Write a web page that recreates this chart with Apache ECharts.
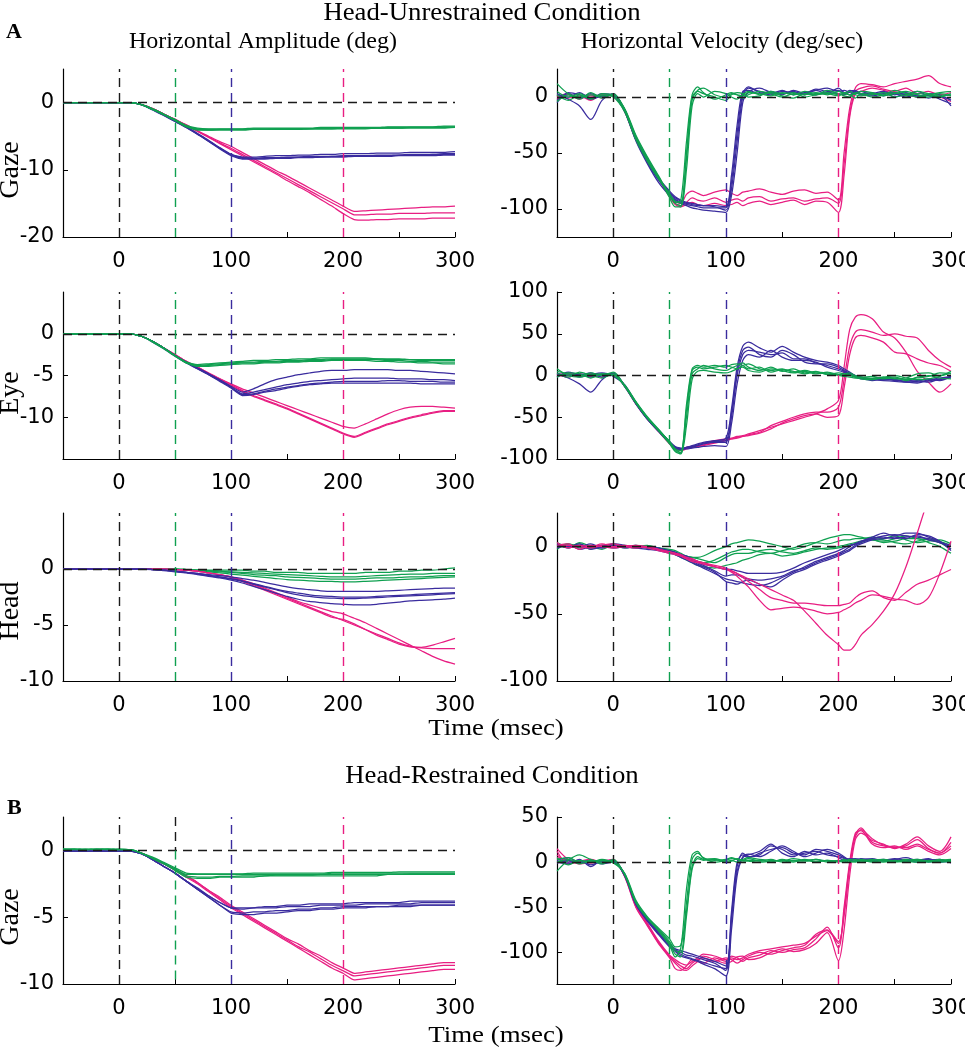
<!DOCTYPE html>
<html><head><meta charset="utf-8">
<script src="https://cdn.jsdelivr.net/npm/echarts@6.0.0/dist/echarts.min.js"></script>
<style>html,body{margin:0;padding:0;background:#fff}#c{width:965px;height:1050px}</style>
</head><body><div id="c"></div><script>
// ---------- time bases ----------
const tAmp = [-50,-40,-30,-20,-10,0,10,20,30,40,50,60,70,80,90,100,110,120,130,140,150,160,170,180,190,200,210,220,230,240,250,260,270,280,290,300];
const tVel = [-50,-40,-30,-20,-10,0, 10,20,30,40,50, 55,60,65,70,75,80, 90,100, 105,110,115,120, 130,140,150,160,170,180,190,200, 205,210,215,220, 230,240,250,260,270,280,290,300];
const xTickLabels = [0,100,200,300];

// ---------- A: Gaze amplitude ----------
const gazeAmpGreen = [
[0,0,0,0,0,0,0, -0.3,-1.0,-1.8,-2.6,-3.5,-3.9,-4.0,-4.0,-4.0, -4.0,-3.9,-3.9,-3.9,-3.9,-3.9,-3.9,-3.8,-3.8,-3.8, -3.8,-3.8,-3.8,-3.7,-3.7,-3.7,-3.7,-3.7,-3.6,-3.6],
[0,0,0,0,0,0,0, -0.3,-1.0,-1.8,-2.6,-3.6,-4.1,-4.1,-4.1,-4.1, -4.1,-4.0,-4.0,-4.0,-4.0,-4.0,-3.9,-3.9,-3.9,-3.9, -3.9,-3.9,-3.8,-3.8,-3.8,-3.8,-3.8,-3.8,-3.8,-3.7],
[0,0,0,0,0,0,0, -0.3,-0.9,-1.7,-2.5,-3.4,-3.8,-3.9,-3.9,-3.9, -3.9,-3.8,-3.8,-3.8,-3.8,-3.8,-3.8,-3.7,-3.7,-3.7, -3.7,-3.7,-3.7,-3.6,-3.6,-3.6,-3.6,-3.6,-3.5,-3.5],
[0,0,0,0,0,0,0, -0.3,-1.0,-1.8,-2.7,-3.6,-4.0,-4.1,-4.0,-4.0, -4.0,-4.0,-4.0,-3.9,-3.9,-3.9,-3.9,-3.9,-3.9,-3.8, -3.8,-3.8,-3.8,-3.8,-3.8,-3.7,-3.7,-3.7,-3.7,-3.7]
];
const gazeAmpBlue = [
[0,0,0,0,0,0,0, -0.3,-1.0,-1.8,-2.7,-3.6,-4.6,-5.6,-6.7,-7.7, -8.2,-8.3,-8.2,-8.2,-8.1,-8.1,-8.0,-8.0,-8.0,-7.9, -7.9,-7.9,-7.8,-7.8,-7.8,-7.7,-7.7,-7.7,-7.6,-7.6],
[0,0,0,0,0,0,0, -0.3,-1.1,-1.9,-2.8,-3.7,-4.7,-5.8,-6.9,-7.9, -8.4,-8.4,-8.4,-8.3,-8.3,-8.2,-8.2,-8.1,-8.1,-8.1, -8.0,-8.0,-8.0,-8.0,-7.9,-7.9,-7.9,-7.9,-7.8,-7.8],
[0,0,0,0,0,0,0, -0.3,-1.0,-1.8,-2.7,-3.6,-4.6,-5.7,-6.8,-7.7, -8.1,-8.1,-8.0,-7.9,-7.9,-7.8,-7.8,-7.7,-7.7,-7.6, -7.6,-7.6,-7.5,-7.5,-7.5,-7.4,-7.4,-7.4,-7.4,-7.3],
[0,0,0,0,0,0,0, -0.3,-1.0,-1.9,-2.8,-3.7,-4.7,-5.7,-6.8,-7.8, -8.3,-8.3,-8.3,-8.2,-8.2,-8.1,-8.1,-8.1,-8.0,-8.0, -8.0,-7.9,-7.9,-7.9,-7.8,-7.8,-7.8,-7.7,-7.7,-7.7]
];
const gazeAmpMagenta = [
[0,0,0,0,0,0,0, -0.3,-0.9,-1.7,-2.5,-3.3,-4.2,-5.0,-5.8,-6.5, -7.4,-8.3,-9.2,-10.1,-10.9,-11.8,-12.7,-13.6,-14.5,-15.4, -16.2,-16.1,-16.0,-15.9,-15.8,-15.7,-15.6,-15.5,-15.5,-15.4],
[0,0,0,0,0,0,0, -0.3,-0.9,-1.7,-2.5,-3.3,-4.2,-5.1,-6.0,-6.8, -7.7,-8.6,-9.5,-10.4,-11.3,-12.2,-13.1,-14.0,-14.9,-15.8, -16.7,-16.7,-16.6,-16.6,-16.5,-16.5,-16.5,-16.4,-16.4,-16.4],
[0,0,0,0,0,0,0, -0.3,-0.9,-1.7,-2.5,-3.4,-4.3,-5.2,-6.1,-7.0, -7.9,-8.8,-9.7,-10.6,-11.6,-12.5,-13.4,-14.4,-15.4,-16.5, -17.4,-17.5,-17.4,-17.4,-17.3,-17.3,-17.3,-17.2,-17.2,-17.2]
];

// ---------- A: Gaze velocity ----------
const gazeVelGreen = [
[12,3,0,2,1,2, -10,-34,-53,-70,-88, -95,-97,-55,-3,6,8, 2,0, 3,2,1,4, 3,1,4,2,5,3,4,2, 3,5,2,1, 3,2,4,1,3,2,0,3],
[2,-3,2,-2,3,1, -12,-36,-55,-72,-86, -94,-92,-40,2,9,4, -2,2, 4,2,-1,2, 5,3,0,3,2,4,2,5, 3,2,-1,3, 2,4,0,2,5,3,1,2],
[-4,2,-2,4,-1,3, -11,-35,-54,-71,-90, -98,-98,-65,-8,3,0, 5,3, 0,-2,2,5, 2,4,1,-1,3,2,6,3, 1,0,4,3, 0,2,6,3,0,2,4,5],
[5,0,3,-1,2,0, -13,-38,-57,-73,-87, -93,-95,-50,0,5,3, 0,-3, 2,4,3,0, 1,5,3,4,0,2,3,1, 4,2,3,5, 4,1,3,5,2,0,3,1]
];
const gazeVelBlue = [
[3,-2,-8,-20,-3,3, -12,-38,-58,-74,-86, -90,-93,-95,-96,-97,-97, -98,-101, -82,-40,0,8, 5,3,6,2,4,6,8,5, 6,4,3,5, 2,4,0,3,1,2,-2,-6],
[-5,4,2,-2,1,2, -11,-36,-56,-72,-84, -89,-92,-94,-95,-96,-97, -97,-98, -70,-25,5,6, 3,5,2,6,3,2,4,3, 2,5,6,3, 4,1,3,0,2,-1,1,-3],
[2,0,4,-1,3,1, -13,-39,-59,-76,-88, -92,-95,-97,-99,-100,-101, -102,-103, -88,-50,-5,4, 8,4,3,5,2,6,3,8, 4,2,5,2, 3,5,2,4,0,3,2,-8],
[-3,3,-1,3,0,2, -12,-37,-57,-73,-85, -91,-94,-96,-97,-98,-99, -99,-99, -76,-32,3,9, 4,2,5,4,3,7,5,6, 3,6,4,2, 1,3,4,2,5,1,0,-2]
];
const gazeVelMagenta = [
[0,3,-2,2,0,2, -12,-37,-56,-72,-87, -93,-95,-87,-84,-86,-88, -85,-83, -86,-88,-85,-84, -82,-85,-87,-84,-83,-86,-85,-92, -50,-10,8,12, 11,9,12,14,16,19,12,9],
[2,-1,1,-3,2,1, -11,-36,-55,-71,-88, -95,-97,-94,-90,-92,-93, -90,-94, -92,-91,-93,-90, -89,-93,-91,-90,-93,-91,-90,-95, -60,-15,5,8, 10,7,5,8,3,5,2,4],
[-2,2,0,1,-1,3, -13,-38,-57,-73,-89, -96,-98,-96,-94,-96,-97, -95,-97, -96,-94,-97,-95, -93,-96,-94,-92,-96,-93,-94,-103, -70,-18,3,5, 8,6,3,2,0,2,0,-4]
];

// ---------- A: Eye amplitude ----------
const eyeAmpGreen = [
[0,0,0,0,0,0,0, -0.3,-0.9,-1.7,-2.6,-3.4,-3.8,-3.7,-3.6,-3.5, -3.4,-3.4,-3.3,-3.3,-3.2,-3.2,-3.1,-3.1,-3.0,-3.0, -3.0,-3.0,-3.0,-3.1,-3.1,-3.1,-3.2,-3.2,-3.2,-3.2],
[0,0,0,0,0,0,0, -0.3,-0.9,-1.7,-2.6,-3.5,-3.9,-3.8,-3.7,-3.6, -3.5,-3.5,-3.4,-3.4,-3.3,-3.3,-3.2,-3.2,-3.1,-3.1, -3.1,-3.1,-3.1,-3.2,-3.2,-3.3,-3.3,-3.4,-3.4,-3.4],
[0,0,0,0,0,0,0, -0.3,-0.9,-1.7,-2.6,-3.4,-3.7,-3.6,-3.5,-3.4, -3.3,-3.2,-3.2,-3.1,-3.1,-3.0,-3.0,-2.9,-2.9,-2.9, -2.9,-2.9,-3.0,-3.0,-3.0,-3.1,-3.1,-3.1,-3.1,-3.1],
[0,0,0,0,0,0,0, -0.3,-1.0,-1.8,-2.7,-3.5,-3.9,-3.9,-3.8,-3.7, -3.6,-3.6,-3.5,-3.5,-3.4,-3.4,-3.3,-3.3,-3.2,-3.2, -3.2,-3.2,-3.3,-3.3,-3.4,-3.4,-3.5,-3.5,-3.6,-3.6]
];
const eyeAmpBlue = [
[0,0,0,0,0,0,0, -0.3,-0.9,-1.7,-2.6,-3.4,-4.1,-4.8,-5.5,-6.3, -7.0,-6.6,-6.0,-5.5,-5.2,-4.9,-4.7,-4.5,-4.4,-4.4, -4.3,-4.3,-4.3,-4.3,-4.4,-4.4,-4.5,-4.6,-4.7,-4.8],
[0,0,0,0,0,0,0, -0.3,-0.9,-1.7,-2.6,-3.4,-4.1,-4.8,-5.6,-6.4, -7.2,-7.0,-6.7,-6.4,-6.1,-5.9,-5.7,-5.6,-5.5,-5.4, -5.3,-5.3,-5.3,-5.3,-5.4,-5.4,-5.4,-5.5,-5.5,-5.6],
[0,0,0,0,0,0,0, -0.3,-0.9,-1.7,-2.6,-3.4,-4.2,-4.9,-5.6,-6.4, -7.3,-7.2,-6.9,-6.6,-6.4,-6.2,-6.0,-5.9,-5.8,-5.7, -5.7,-5.7,-5.7,-5.6,-5.6,-5.7,-5.7,-5.7,-5.8,-5.8],
[0,0,0,0,0,0,0, -0.3,-1.0,-1.8,-2.7,-3.5,-4.2,-4.9,-5.7,-6.5, -7.4,-7.3,-7.0,-6.8,-6.5,-6.3,-6.1,-6.0,-5.9,-5.9, -5.9,-5.9,-5.9,-5.9,-5.9,-5.9,-6.0,-6.0,-6.0,-6.0]
];
const eyeAmpMagenta = [
[0,0,0,0,0,0,0, -0.3,-0.9,-1.7,-2.5,-3.3,-4.0,-4.7,-5.4,-6.0, -6.6,-7.1,-7.6,-8.1,-8.6,-9.1,-9.6,-10.1,-10.6,-11.1, -11.3,-10.8,-10.2,-9.6,-9.1,-8.8,-8.7,-8.7,-8.8,-8.9],
[0,0,0,0,0,0,0, -0.3,-0.9,-1.7,-2.5,-3.3,-4.0,-4.7,-5.4,-6.1, -6.8,-7.4,-7.9,-8.4,-8.9,-9.5,-10.1,-10.7,-11.3,-11.9, -12.3,-11.8,-11.3,-10.8,-10.4,-10.0,-9.7,-9.4,-9.2,-9.2],
[0,0,0,0,0,0,0, -0.3,-0.9,-1.7,-2.5,-3.3,-4.0,-4.8,-5.5,-6.2, -6.9,-7.5,-8.0,-8.5,-9.0,-9.6,-10.2,-10.8,-11.4,-12.0, -12.4,-11.9,-11.4,-10.9,-10.5,-10.1,-9.8,-9.5,-9.3,-9.3]
];

// ---------- A: Eye velocity ----------
const eyeVelGreen = [
[5,2,-1,3,0,4, -12,-32,-50,-65,-80, -88,-90,-41,6,10,8, 10,12, 10,8,12,14, 8,6,8,4,6,3,2,0, -1,-2,-3,-3, -3,-2,-4,-3,2,3,0,5],
[-2,3,2,-3,2,1, -11,-31,-49,-64,-80, -90,-92,-50,2,8,12, 8,6, 9,12,15,10, 6,10,5,8,3,5,1,3, 2,0,-2,-4, -5,-3,-2,-5,-3,-1,3,2],
[3,-2,4,0,-3,2, -13,-33,-51,-66,-82, -91,-94,-60,-5,5,6, 4,3, 5,8,10,6, 4,8,6,3,5,2,4,1, 0,1,-1,-2, -1,-4,-3,-6,-2,0,-3,-4],
[8,0,-2,1,2,0, -12,-32,-50,-65,-79, -88,-93,-35,8,12,10, 12,10, 13,14,12,8, 10,4,7,5,2,4,3,1, 2,3,0,-2, -4,-2,0,-3,-5,-4,-1,3]
];
const eyeVelBlue = [
[2,-3,-10,-20,-5,3, -12,-33,-51,-66,-80, -86,-88,-86,-84,-82,-80, -78,-75, -40,10,35,40, 33,28,35,28,22,18,16,12, 8,4,0,-2, -4,-5,-5,-8,-7,-4,-6,-1],
[-2,4,1,3,-2,2, -13,-34,-52,-67,-81, -87,-89,-87,-86,-84,-82, -80,-80, -50,0,25,30, 28,25,27,20,20,15,12,8, 5,2,-2,-4, -5,-6,-7,-8,-9,-6,-5,-3],
[0,2,-2,1,3,-1, -11,-32,-51,-65,-79, -85,-87,-88,-87,-86,-85, -84,-85, -58,-10,18,25, 22,30,22,18,18,16,10,6, 4,1,-1,-3, -4,-3,-6,-5,-8,-5,-3,-1],
[3,0,2,-2,1,2, -12,-33,-52,-66,-80, -86,-88,-86,-85,-83,-81, -79,-78, -45,5,30,34, 25,22,30,25,16,14,14,10, 6,3,0,-3, -6,-4,-5,-7,-6,-8,-4,-2]
];
const eyeVelMagenta = [
[0,3,-1,2,1,2, -12,-33,-51,-66,-81, -87,-88,-86,-85,-84,-82, -78,-76, -75,-73,-72,-70, -66,-62,-58,-54,-50,-46,-40,-30, 10,55,70,73, 68,52,45,28,5,-8,-20,-10],
[2,-2,2,-1,0,1, -13,-34,-52,-67,-82, -88,-89,-87,-86,-85,-83, -80,-77, -76,-74,-73,-71, -68,-60,-55,-50,-46,-44,-44,-38, -5,35,52,55, 52,48,50,47,45,30,18,10],
[-1,1,0,2,-2,2, -12,-33,-51,-66,-81, -87,-90,-88,-86,-85,-84, -81,-78, -76,-75,-73,-72, -69,-64,-57,-52,-48,-46,-50,-48, -15,25,45,48, 45,40,28,26,20,15,12,5]
];

// ---------- A: Head amplitude ----------
const headAmpGreen = [
[0,0,0,0,0,0,0, 0,0,0,0,-0.05,-0.1,-0.1,-0.1,-0.1, -0.1,-0.2,-0.2,-0.3,-0.3,-0.3,-0.4,-0.4,-0.4,-0.4, -0.4,-0.3,-0.3,-0.3,-0.2,-0.2,-0.1,-0.1,0,0.1],
[0,0,0,0,0,0,0, 0,0,0,0,-0.05,-0.1,-0.15,-0.2,-0.25, -0.3,-0.35,-0.4,-0.45,-0.5,-0.55,-0.6,-0.65,-0.7,-0.7, -0.7,-0.65,-0.6,-0.55,-0.5,-0.45,-0.45,-0.4,-0.4,-0.4],
[0,0,0,0,0,0,0, 0,0,0,0,-0.05,-0.1,-0.2,-0.25,-0.3, -0.4,-0.5,-0.55,-0.6,-0.7,-0.75,-0.8,-0.85,-0.9,-0.9, -0.9,-0.85,-0.8,-0.8,-0.75,-0.7,-0.7,-0.65,-0.6,-0.6],
[0,0,0,0,0,0,0, 0,0,0,-0.02,-0.1,-0.15,-0.25,-0.35,-0.45, -0.55,-0.65,-0.75,-0.85,-0.95,-1.0,-1.05,-1.1,-1.1,-1.15, -1.15,-1.1,-1.05,-1.0,-0.95,-0.9,-0.85,-0.8,-0.75,-0.7]
];
const headAmpBlue = [
[0,0,0,0,0,0,0, 0,-0.05,-0.1,-0.2,-0.3,-0.4,-0.5,-0.6,-0.7, -0.85,-1.0,-1.2,-1.4,-1.6,-1.75,-1.85,-1.95,-2.0,-2.0, -2.0,-2.0,-2.0,-1.95,-1.9,-1.85,-1.8,-1.75,-1.7,-1.7],
[0,0,0,0,0,0,0, 0,-0.05,-0.1,-0.2,-0.3,-0.4,-0.55,-0.7,-0.85, -1.05,-1.3,-1.55,-1.8,-2.0,-2.15,-2.3,-2.4,-2.45,-2.5, -2.5,-2.5,-2.45,-2.4,-2.35,-2.3,-2.25,-2.2,-2.15,-2.1],
[0,0,0,0,0,0,0, 0,-0.05,-0.1,-0.2,-0.3,-0.45,-0.6,-0.75,-0.9, -1.1,-1.35,-1.6,-1.85,-2.1,-2.3,-2.45,-2.55,-2.6,-2.65, -2.65,-2.6,-2.55,-2.5,-2.45,-2.4,-2.35,-2.3,-2.25,-2.2],
[0,0,0,0,0,0,0, 0,-0.05,-0.15,-0.25,-0.35,-0.5,-0.65,-0.8,-1.0, -1.25,-1.55,-1.85,-2.15,-2.45,-2.7,-2.9,-3.0,-3.1,-3.15, -3.2,-3.2,-3.15,-3.05,-2.95,-2.85,-2.8,-2.75,-2.7,-2.6]
];
const headAmpMagenta = [
[0,0,0,0,0,0,0, 0,0,0,-0.05,-0.1,-0.2,-0.35,-0.5,-0.7, -1.0,-1.3,-1.7,-2.1,-2.5,-2.9,-3.2,-3.5,-3.8,-4.0, -4.4,-4.8,-5.3,-5.8,-6.3,-6.8,-7.3,-7.8,-8.2,-8.5],
[0,0,0,0,0,0,0, 0,0,0,-0.05,-0.1,-0.2,-0.35,-0.5,-0.7, -1.0,-1.4,-1.8,-2.2,-2.6,-3.0,-3.4,-3.8,-4.2,-4.6, -5.0,-5.4,-5.8,-6.2,-6.6,-6.9,-7.0,-6.8,-6.5,-6.2],
[0,0,0,0,0,0,0, 0,0,0,-0.05,-0.1,-0.2,-0.35,-0.5,-0.75, -1.1,-1.5,-1.9,-2.3,-2.7,-3.1,-3.5,-3.9,-4.3,-4.5, -4.9,-5.4,-5.9,-6.3,-6.7,-6.95,-7.05,-7.1,-7.1,-7.1]
];

// ---------- A: Head velocity ----------
const headVelGreen = [
[3,0,2,-2,1,-1, 1,0,-1,-2,-3, -4,-6,-7,-8,-8,-7, -3,0, 2,3,4,5, 4,2,0,-2,0,3,6,8, 9,9,8,7, 5,4,6,8,6,5,3,-2],
[-2,2,-1,1,0,2, 0,1,0,-1,-3, -5,-7,-9,-10,-11,-12, -10,-6, -4,-3,-2,-2, -4,-5,-3,-1,2,3,2,4, 5,5,6,6, 7,6,8,5,3,4,5,2],
[1,-1,3,0,-2,1, -1,0,1,-1,-4, -6,-8,-10,-12,-14,-15, -16,-14, -13,-12,-10,-9, -6,-5,-7,-6,-4,-2,-1,0, 1,2,3,4, 5,3,4,6,6,3,0,-5],
[0,2,0,-1,1,0, 0,-1,0,-1,-2, -3,-5,-7,-8,-9,-10, -12,-8, -6,-5,-5,-5, -3,-2,-4,-5,-3,-1,-2,-1, 0,1,2,3, 6,5,3,2,4,6,4,1]
];
const headVelBlue = [
[-1,1,0,2,-1,1, 0,-1,0,-1,-3, -4,-6,-7,-9,-11,-13, -15,-17, -17,-18,-19,-20, -20,-20,-19,-16,-12,-9,-6,-3, -1,1,2,4, 6,8,9,8,7,6,3,0],
[2,-1,1,-2,0,2, 1,-1,-2,-3,-5, -6,-8,-10,-12,-14,-16, -20,-24, -25,-26,-27,-28, -29,-27,-23,-19,-15,-11,-8,-5, -3,0,2,4, 7,10,8,10,10,7,4,-3],
[0,1,-2,0,1,-1, 0,1,-1,-2,-4, -5,-7,-8,-10,-12,-14, -18,-22, -21,-21,-23,-24, -25,-24,-22,-18,-16,-12,-9,-6, -4,-2,1,3, 6,7,6,7,8,5,3,1],
[1,0,2,-1,-1,1, -1,0,-1,-2,-4, -5,-6,-8,-11,-13,-15, -19,-26, -27,-28,-26,-25, -28,-30,-25,-20,-17,-13,-10,-7, -5,-3,0,2, 5,6,7,6,9,8,4,-2]
];
const headVelMagenta = [
[3,-1,1,0,2,0, 1,0,-1,-3,-5, -6,-7,-9,-10,-11,-12, -15,-17, -18,-20,-22,-24, -28,-32,-36,-40,-48,-57,-66,-73, -77,-77,-73,-66, -58,-48,-35,-15,10,35,50,60],
[1,2,-2,1,0,-1, 0,1,0,-2,-4, -5,-7,-9,-11,-12,-13, -15,-17, -19,-22,-26,-30, -40,-47,-46,-45,-46,-48,-50,-49, -47,-45,-42,-40, -36,-37,-39,-40,-43,-38,-20,4],
[0,1,0,-1,1,2, 0,-1,0,-2,-4, -5,-6,-8,-9,-11,-12, -14,-16, -18,-20,-23,-26, -32,-38,-40,-42,-42,-43,-44,-44, -43,-42,-38,-35, -33,-38,-40,-34,-28,-25,-21,-17]
];

// ---------- B: Gaze amplitude (head restrained) ----------
const gazeRAmpGreen = [
[0.1,0.1,0.1,0.1,0.1,0.1,0.05, -0.2,-0.6,-1.0,-1.4,-1.8,-1.8,-1.8,-1.8,-1.8, -1.8,-1.8,-1.8,-1.8,-1.8,-1.8,-1.8,-1.8,-1.7,-1.7, -1.7,-1.7,-1.7,-1.7,-1.7,-1.7,-1.7,-1.7,-1.7,-1.7],
[0.1,0.05,0.1,0.05,0.1,0.05,0.05, -0.2,-0.6,-1.0,-1.5,-2.0,-2.1,-2.1,-2.0,-2.0, -2.0,-2.0,-1.9,-1.9,-1.9,-1.9,-1.9,-1.9,-1.9,-1.9, -1.9,-1.9,-1.9,-1.8,-1.8,-1.8,-1.8,-1.8,-1.8,-1.8],
[0.05,0.1,0.05,0.1,0.05,0.1,0.05, -0.2,-0.5,-0.9,-1.3,-1.7,-1.75,-1.75,-1.75,-1.75, -1.75,-1.7,-1.7,-1.7,-1.7,-1.7,-1.7,-1.7,-1.65,-1.65, -1.65,-1.65,-1.65,-1.65,-1.6,-1.6,-1.6,-1.6,-1.6,-1.6],
[0.1,0.1,0.05,0.1,0.1,0.05,0.05, -0.2,-0.6,-1.0,-1.4,-1.9,-2.0,-2.0,-1.95,-1.95, -1.9,-1.9,-1.9,-1.85,-1.85,-1.85,-1.85,-1.8,-1.8,-1.8, -1.8,-1.8,-1.8,-1.8,-1.8,-1.75,-1.75,-1.75,-1.75,-1.75]
];
const gazeRAmpBlue = [
[-0.05,-0.05,-0.05,-0.05,-0.05,-0.05,-0.05, -0.25,-0.7,-1.2,-1.7,-2.3,-2.9,-3.5,-4.1,-4.6, -4.7,-4.6,-4.6,-4.5,-4.5,-4.4,-4.4,-4.3,-4.3,-4.2, -4.2,-4.2,-4.2,-4.2,-4.1,-4.1,-4.1,-4.1,-4.1,-4.1],
[-0.05,-0.05,-0.05,-0.05,-0.05,-0.05,-0.05, -0.25,-0.7,-1.2,-1.7,-2.3,-2.9,-3.4,-3.9,-4.3, -4.4,-4.3,-4.3,-4.3,-4.2,-4.2,-4.2,-4.1,-4.1,-4.1, -4.1,-4.0,-4.0,-4.0,-4.0,-4.0,-3.9,-3.9,-3.9,-3.9],
[-0.05,-0.05,-0.05,-0.05,-0.05,-0.05,-0.05, -0.25,-0.7,-1.2,-1.7,-2.3,-2.9,-3.5,-4.1,-4.7, -4.8,-4.8,-4.7,-4.7,-4.6,-4.5,-4.5,-4.4,-4.4,-4.3, -4.3,-4.3,-4.2,-4.2,-4.2,-4.2,-4.1,-4.1,-4.1,-4.1],
[-0.05,-0.05,-0.05,-0.05,-0.05,-0.05,-0.05, -0.25,-0.7,-1.2,-1.7,-2.3,-2.8,-3.4,-3.9,-4.3, -4.3,-4.3,-4.2,-4.2,-4.1,-4.1,-4.0,-4.0,-4.0,-4.0, -3.9,-3.9,-3.9,-3.9,-3.9,-3.8,-3.8,-3.8,-3.8,-3.8]
];
const gazeRAmpMagenta = [
[0,0,0,0,0,0,0, -0.2,-0.6,-1.0,-1.4,-1.9,-2.4,-3.0,-3.5,-4.1, -4.6,-5.1,-5.6,-6.1,-6.6,-7.0,-7.5,-7.9,-8.4,-8.8, -9.2,-9.1,-9.0,-8.9,-8.8,-8.7,-8.6,-8.5,-8.4,-8.4],
[0,0,0,0,0,0,0, -0.2,-0.6,-1.0,-1.4,-1.9,-2.4,-3.0,-3.6,-4.2, -4.7,-5.2,-5.7,-6.2,-6.7,-7.2,-7.6,-8.1,-8.6,-9.0, -9.4,-9.3,-9.2,-9.1,-9.0,-8.9,-8.8,-8.7,-8.6,-8.6],
[0,0,0,0,0,0,0, -0.2,-0.6,-1.0,-1.5,-2.0,-2.5,-3.1,-3.7,-4.3, -4.8,-5.3,-5.8,-6.3,-6.8,-7.3,-7.8,-8.3,-8.8,-9.2, -9.7,-9.6,-9.5,-9.4,-9.3,-9.2,-9.1,-9.0,-8.9,-8.9]
];

// ---------- B: Gaze velocity (head restrained) ----------
const gazeRVelGreen = [
[-10,2,8,3,0,2, -13,-44,-61,-74,-88, -98,-100,-45,3,10,5, 0,2, 4,3,1,2, 2,0,3,1,2,0,2,1, 2,0,1,3, 1,0,2,1,0,2,1,2],
[3,5,0,2,-2,3, -14,-45,-62,-76,-92, -105,-95,-30,8,12,4, 2,3, 5,3,2,4, 1,3,0,2,1,3,0,2, 1,2,3,0, 2,3,1,0,2,1,3,0],
[5,-3,2,0,3,-1, -12,-42,-60,-73,-85, -94,-92,-55,-5,6,3, 4,1, 2,0,3,5, 3,2,1,4,2,3,1,0, 3,1,0,2, 0,2,1,3,1,0,2,3],
[0,3,-2,1,2,0, -13,-44,-62,-75,-90, -102,-105,-60,-8,4,2, 3,0, 1,4,2,1, 0,1,2,0,3,1,2,1, 0,3,2,1, 3,1,0,2,3,1,0,1]
];
const gazeRVelBlue = [
[2,5,-1,2,0,2, -14,-46,-64,-78,-92, -97,-100,-103,-104,-106,-108, -112,-120, -60,-5,10,6, 8,18,14,8,10,12,8,6, 4,2,3,4, 3,2,4,2,3,0,2,1],
[0,-2,3,-5,2,1, -15,-47,-65,-80,-94, -99,-104,-106,-108,-110,-113, -118,-126, -75,-15,5,8, 12,20,10,6,12,8,10,5, 2,4,3,2, 4,1,3,5,2,3,1,0],
[1,0,2,-3,1,2, -13,-45,-63,-77,-90, -96,-98,-100,-102,-104,-106, -110,-115, -55,0,8,5, 10,14,16,10,8,14,12,8, 5,3,4,2, 2,3,1,2,0,2,3,-1],
[-1,2,0,2,-2,0, -14,-46,-64,-79,-93, -98,-102,-105,-107,-109,-111, -115,-118, -65,-10,6,9, 6,12,18,12,6,10,14,10, 6,2,1,3, 1,2,3,1,2,4,0,2]
];
const gazeRVelMagenta = [
[15,3,0,2,-1,2, -15,-48,-68,-88,-104, -110,-115,-118,-112,-108,-106, -110,-106, -108,-112,-108,-104, -100,-102,-98,-95,-92,-80,-75,-88, -60,-5,30,38, 22,18,16,18,25,15,10,22],
[8,0,2,-1,1,3, -16,-50,-70,-90,-106, -118,-120,-115,-108,-110,-112, -106,-110, -104,-106,-110,-106, -103,-98,-100,-97,-95,-85,-72,-95, -50,0,32,35, 20,16,18,14,18,12,8,15],
[12,-2,1,3,0,1, -15,-49,-69,-89,-105, -112,-118,-120,-115,-110,-104, -108,-112, -110,-105,-104,-108, -106,-100,-96,-99,-97,-90,-78,-109, -75,-15,25,32, 24,20,15,20,28,18,12,28],
[5,2,-2,0,2,1, -14,-47,-67,-87,-103, -108,-112,-114,-110,-106,-102, -104,-108, -106,-108,-106,-102, -98,-96,-94,-92,-90,-82,-76,-90, -55,-3,28,36, 26,19,17,16,20,14,10,18]
];

// ---------- axis tick labels ----------
const gazeAmpYTicks = [-20,-10,0];
const gazeVelYTicks = [-100,-50,0];
const eyeAmpYTicks = [-10,-5,0];
const eyeVelYTicks = [-100,-50,0,50,100];
const headAmpYTicks = [-10,-5,0];
const headVelYTicks = [-100,-50,0];
const gazeRAmpYTicks = [-10,-5,0];
const gazeRVelYTicks = [-100,-50,0,50];

// ---------- styling / layout ----------
const C = { green:'#0fa050', blue:'#3a2c9e', magenta:'#e81e82', black:'#1a1a1a' };
const colLeft = [63, 557], colWidth = [392, 394];
const rowTop = [69, 292, 513, 817], rowHeight = [168, 167, 168, 167];

const panels = [
  {col:0,row:0,t:tAmp,min:-20,max:5,step:5,ticks:gazeAmpYTicks,g:gazeAmpGreen,b:gazeAmpBlue,m:gazeAmpMagenta,smooth:0.15},
  {col:1,row:0,t:tVel,min:-125,max:25,step:25,ticks:gazeVelYTicks,g:gazeVelGreen,b:gazeVelBlue,m:gazeVelMagenta,smooth:0.3},
  {col:0,row:1,t:tAmp,min:-15,max:5,step:5,ticks:eyeAmpYTicks,g:eyeAmpGreen,b:eyeAmpBlue,m:eyeAmpMagenta,smooth:0.15},
  {col:1,row:1,t:tVel,min:-100,max:100,step:50,ticks:eyeVelYTicks,g:eyeVelGreen,b:eyeVelBlue,m:eyeVelMagenta,smooth:0.3},
  {col:0,row:2,t:tAmp,min:-10,max:5,step:5,ticks:headAmpYTicks,g:headAmpGreen,b:headAmpBlue,m:headAmpMagenta,smooth:0.15,order:['g','m','b']},
  {col:1,row:2,t:tVel,min:-100,max:25,step:25,ticks:headVelYTicks,g:headVelGreen,b:headVelBlue,m:headVelMagenta,smooth:0.3,order:['g','b','m']},
  {col:0,row:3,t:tAmp,min:-10,max:2.5,step:2.5,ticks:gazeRAmpYTicks,g:gazeRAmpGreen,b:gazeRAmpBlue,m:gazeRAmpMagenta,smooth:0.15,split50:true},
  {col:1,row:3,t:tVel,min:-135,max:50,step:5,ticks:gazeRVelYTicks,g:gazeRVelGreen,b:gazeRVelBlue,m:gazeRVelMagenta,smooth:0.3}
];

const grid = [], xAxis = [], yAxis = [], series = [];
const labelFont = { fontFamily:'DejaVu Sans', fontSize:21, color:'#000' };
const dashStyle = c => ({ color:c, type:[9,6], width:1.4, opacity:1 });

panels.forEach((p, i) => {
  grid.push({ left: colLeft[p.col], top: rowTop[p.row], width: colWidth[p.col], height: rowHeight[p.row],
    containLabel:false, outerBoundsMode:'none' });
  xAxis.push({
    gridIndex:i, type:'value', min:-50, max:300, interval:50,
    axisLine:{ show:true, onZero:false, lineStyle:{ color:'#000', width:1.2 } },
    axisTick:{ show:true, inside:true, length:5, lineStyle:{ color:'#000' } },
    axisLabel:{ ...labelFont, margin:14, formatter: v => xTickLabels.includes(v) ? String(v) : '' },
    splitLine:{ show:false }
  });
  yAxis.push({
    gridIndex:i, type:'value', min:p.min, max:p.max, interval:p.step,
    axisLine:{ show:true, onZero:false, lineStyle:{ color:'#000', width:1.2 } },
    axisTick:{ show:true, inside:true, length:5, customValues:p.ticks, lineStyle:{ color:'#000' } },
    axisLabel:{ ...labelFont, margin:9, customValues:p.ticks, formatter: v => p.ticks.includes(v) ? String(v) : '' },
    splitLine:{ show:false }
  });
  const ml = [
    [{ coord:[-50, 0], lineStyle:dashStyle(C.black) }, { coord:[300, 0] }],
    [{ coord:[0, p.min], lineStyle:dashStyle(C.black) }, { coord:[0, p.max] }],
    [{ coord:[100, p.min], lineStyle:dashStyle(C.blue) }, { coord:[100, p.max] }],
    [{ coord:[200, p.min], lineStyle:dashStyle(C.magenta) }, { coord:[200, p.max] }]
  ];
  if (p.split50) {
    ml.push([{ coord:[50, p.max], lineStyle:dashStyle(C.black) }, { coord:[50, 0] }]);
    ml.push([{ coord:[50, 0], lineStyle:dashStyle(C.green) }, { coord:[50, p.min] }]);
  } else {
    ml.push([{ coord:[50, p.min], lineStyle:dashStyle(C.green) }, { coord:[50, p.max] }]);
  }
  series.push({
    type:'line', xAxisIndex:i, yAxisIndex:i, data:[[-50, 0]], showSymbol:false, z:1,
    lineStyle:{ opacity:0 }, silent:true,
    markLine:{ silent:true, symbol:['none','none'], label:{ show:false }, animation:false,
      lineStyle:{ type:[9,6], width:1.4 }, emphasis:{ disabled:true }, data: ml }
  });
  const order = p.order || ['m','b','g'];
  const colorOf = { g:C.green, b:C.blue, m:C.magenta };
  order.forEach(k => {
    p[k].forEach(trace => {
      const n = Math.min(trace.length, p.t.length);
      const d = [];
      for (let j = 0; j < n; j++) d.push([p.t[j], trace[j]]);
      series.push({
        type:'line', xAxisIndex:i, yAxisIndex:i, data:d, showSymbol:false, z:2,
        smooth:p.smooth, clip:true, silent:true,
        lineStyle:{ color:colorOf[k], width:1.25 }, emphasis:{ disabled:true }
      });
    });
  });
});

const serif = 'Liberation Serif';
function txt(x, y, s, size, opts) {
  opts = opts || {};
  return { type:'text', x, y, rotation: opts.rot || 0, scaleX: opts.sx || 1, z:10,
    style:{ text:s, fontFamily:serif, fontSize:size, fontWeight: opts.bold ? 'bold' : 'normal',
      fill:'#000', textAlign: opts.align || 'center', textVerticalAlign:'middle' } };
}
const graphic = [
  txt(482, 13, 'Head-Unrestrained Condition', 25, { sx:1.07 }),
  txt(6, 32, 'A', 22, { bold:true, align:'left' }),
  txt(263, 42, 'Horizontal Amplitude (deg)', 24, { sx:1.0 }),
  txt(722, 42, 'Horizontal Velocity (deg/sec)', 24, { sx:1.0 }),
  txt(496, 729, 'Time (msec)', 24, { sx:1.12 }),
  txt(492, 776, 'Head-Restrained Condition', 25, { sx:1.07 }),
  txt(7, 808, 'B', 22, { bold:true, align:'left' }),
  txt(496, 1036, 'Time (msec)', 24, { sx:1.12 }),
  txt(11, 170, 'Gaze', 28, { rot:Math.PI/2 }),
  txt(11, 393, 'Eye', 28, { rot:Math.PI/2 }),
  txt(11, 611, 'Head', 28, { rot:Math.PI/2 }),
  txt(11, 917, 'Gaze', 28, { rot:Math.PI/2 })
];

const chart = echarts.init(document.getElementById('c'), null, { renderer:'canvas' });
chart.setOption({ animation:false, backgroundColor:'#fff', grid, xAxis, yAxis, series, graphic });
</script></body></html>
